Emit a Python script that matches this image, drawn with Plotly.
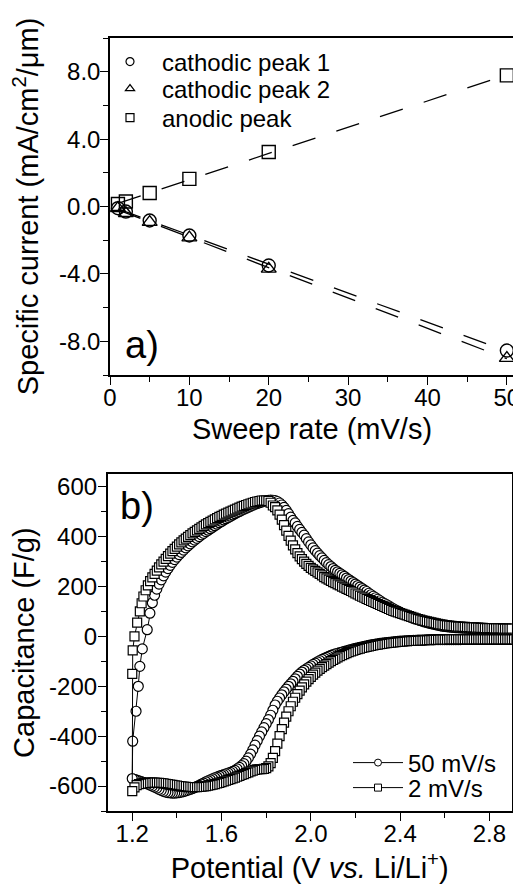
import numpy as np
import plotly.graph_objects as go

# ---------------- Panel a data ----------------
sweep_rate = [1, 2, 5, 10, 20, 50]
cathodic_peak_1 = [-0.10, -0.30, -0.83, -1.72, -3.50, -8.55]
cathodic_peak_2 = [-0.10, -0.40, -0.93, -1.85, -3.70, -9.00]
anodic_peak = [0.15, 0.30, 0.80, 1.64, 3.23, 7.78]

a_xticks = [0, 10, 20, 30, 40, 50]
a_yticks = [-8, -4, 0, 4, 8]
a_yticklabels = ["-8.0", "-4.0", "0.0", "4.0", "8.0"]

# ---------------- Panel b data ----------------
# cathodic (lower) branch, potential sweeping down from 2.90 V to 1.20 V
potential_lower = [
    2.90, 2.89, 2.88, 2.87, 2.86, 2.85, 2.84, 2.83, 2.82, 2.81,
    2.80, 2.79, 2.78, 2.77, 2.76, 2.75, 2.74, 2.73, 2.72, 2.71,
    2.70, 2.69, 2.68, 2.67, 2.66, 2.65, 2.64, 2.63, 2.62, 2.61,
    2.60, 2.59, 2.58, 2.57, 2.56, 2.55, 2.54, 2.53, 2.52, 2.51,
    2.50, 2.49, 2.48, 2.47, 2.46, 2.45, 2.44, 2.43, 2.42, 2.41,
    2.40, 2.39, 2.38, 2.37, 2.36, 2.35, 2.34, 2.33, 2.32, 2.31,
    2.30, 2.29, 2.28, 2.27, 2.26, 2.25, 2.24, 2.23, 2.22, 2.21,
    2.20, 2.19, 2.18, 2.17, 2.16, 2.15, 2.14, 2.13, 2.12, 2.11,
    2.10, 2.09, 2.08, 2.07, 2.06, 2.05, 2.04, 2.03, 2.02, 2.01,
    2.00, 1.99, 1.98, 1.97, 1.96, 1.95, 1.94, 1.93, 1.92, 1.91,
    1.90, 1.89, 1.88, 1.87, 1.86, 1.85, 1.84, 1.83, 1.82, 1.81,
    1.80, 1.79, 1.78, 1.77, 1.76, 1.75, 1.74, 1.73, 1.72, 1.71,
    1.70, 1.69, 1.68, 1.67, 1.66, 1.65, 1.64, 1.63, 1.62, 1.61,
    1.60, 1.59, 1.58, 1.57, 1.56, 1.55, 1.54, 1.53, 1.52, 1.51,
    1.50, 1.49, 1.48, 1.47, 1.46, 1.45, 1.44, 1.43, 1.42, 1.41,
    1.40, 1.39, 1.38, 1.37, 1.36, 1.35, 1.34, 1.33, 1.32, 1.31,
    1.30, 1.29, 1.28, 1.27, 1.26, 1.25, 1.24, 1.23, 1.22, 1.21,
    1.20]
cap_50_lower = [
    -12, -12, -12, -12, -12, -12, -12, -12, -12, -12,
    -12, -12, -12, -12, -12, -12, -12, -12, -12, -12,
    -12, -12, -12, -13, -13, -13, -13, -13, -13, -13,
    -13, -13, -13, -13, -13, -14, -14, -14, -14, -15,
    -15, -15, -15, -16, -16, -17, -17, -18, -18, -19,
    -19, -20, -21, -22, -23, -24, -25, -26, -27, -28,
    -30, -31, -33, -34, -36, -38, -40, -42, -44, -46,
    -48, -50, -53, -55, -58, -60, -63, -65, -68, -70,
    -73, -76, -80, -84, -88, -92, -97, -102, -107, -112,
    -118, -124, -130, -136, -143, -151, -160, -170, -180, -190,
    -200, -211, -222, -234, -247, -260, -275, -296, -316, -334,
    -350, -366, -383, -400, -418, -436, -455, -472, -487, -500,
    -510, -518, -525, -531, -537, -541, -545, -548, -551, -554,
    -557, -560, -564, -567, -571, -575, -579, -583, -588, -592,
    -597, -601, -606, -610, -613, -616, -619, -622, -624, -626,
    -627, -628, -628, -627, -626, -624, -621, -617, -613, -608,
    -604, -600, -596, -592, -589, -585, -582, -579, -576, -573,
    -570]
cap_2_lower = [
    -12, -12, -12, -12, -12, -12, -12, -12, -12, -12,
    -12, -12, -12, -12, -12, -12, -12, -12, -12, -12,
    -12, -12, -12, -12, -12, -12, -12, -12, -12, -12,
    -12, -12, -13, -13, -13, -13, -14, -14, -14, -15,
    -15, -16, -16, -17, -17, -18, -18, -19, -19, -20,
    -21, -22, -23, -24, -25, -26, -27, -28, -30, -31,
    -33, -34, -36, -38, -40, -42, -44, -46, -49, -51,
    -54, -57, -60, -63, -67, -71, -75, -79, -84, -89,
    -94, -99, -105, -111, -117, -123, -130, -137, -145, -153,
    -162, -171, -181, -192, -204, -217, -231, -246, -262, -280,
    -300, -322, -346, -372, -400, -430, -460, -487, -508, -521,
    -528, -531, -532, -532, -533, -535, -538, -541, -545, -548,
    -552, -555, -559, -562, -566, -569, -572, -575, -578, -581,
    -584, -587, -589, -592, -594, -596, -598, -600, -601, -602,
    -603, -604, -604, -604, -604, -604, -603, -602, -601, -600,
    -598, -597, -595, -594, -592, -591, -589, -588, -587, -587,
    -586, -586, -586, -586, -587, -588, -590, -592, -596, -605,
    -620]

# anodic (upper) branch, potential sweeping up from 1.20 V to 2.90 V
potential_upper_50 = [
    1.202, 1.217, 1.227, 1.234, 1.245, 1.267, 1.279,
    1.29, 1.30, 1.31, 1.32, 1.33, 1.34, 1.35, 1.36, 1.37, 1.38, 1.39,
    1.40, 1.41, 1.42, 1.43, 1.44, 1.45, 1.46, 1.47, 1.48, 1.49,
    1.50, 1.51, 1.52, 1.53, 1.54, 1.55, 1.56, 1.57, 1.58, 1.59,
    1.60, 1.61, 1.62, 1.63, 1.64, 1.65, 1.66, 1.67, 1.68, 1.69,
    1.70, 1.71, 1.72, 1.73, 1.74, 1.75, 1.76, 1.77, 1.78, 1.79,
    1.80, 1.81, 1.82, 1.83, 1.84, 1.85, 1.86, 1.87, 1.88, 1.89,
    1.90, 1.91, 1.92, 1.93, 1.94, 1.95, 1.96, 1.97, 1.98, 1.99,
    2.00, 2.01, 2.02, 2.03, 2.04, 2.05, 2.06, 2.07, 2.08, 2.09,
    2.10, 2.11, 2.12, 2.13, 2.14, 2.15, 2.16, 2.17, 2.18, 2.19,
    2.20, 2.21, 2.22, 2.23, 2.24, 2.25, 2.26, 2.27, 2.28, 2.29,
    2.30, 2.31, 2.32, 2.33, 2.34, 2.35, 2.36, 2.37, 2.38, 2.39,
    2.40, 2.41, 2.42, 2.43, 2.44, 2.45, 2.46, 2.47, 2.48, 2.49,
    2.50, 2.51, 2.52, 2.53, 2.54, 2.55, 2.56, 2.57, 2.58, 2.59,
    2.60, 2.61, 2.62, 2.63, 2.64, 2.65, 2.66, 2.67, 2.68, 2.69,
    2.70, 2.71, 2.72, 2.73, 2.74, 2.75, 2.76, 2.77, 2.78, 2.79,
    2.80, 2.81, 2.82, 2.83, 2.84, 2.85, 2.86, 2.87, 2.88, 2.89,
    2.90]
cap_50_upper = [
    -420, -300, -200, -120, -50, 27, 93,
    135, 165, 190, 210, 227, 243, 258, 272, 285, 297, 308,
    318, 328, 337, 346, 355, 363, 371, 379, 386, 393,
    400, 407, 413, 420, 426, 432, 438, 444, 450, 456,
    461, 467, 472, 477, 482, 487, 492, 497, 501, 506,
    510, 514, 518, 522, 526, 530, 533, 536, 539, 542,
    544, 546, 547, 546, 545, 541, 535, 527, 517, 505,
    492, 478, 465, 455, 441, 429, 417, 406, 392, 379,
    367, 355, 344, 334, 324, 315, 305, 296, 288, 280,
    272, 265, 259, 253, 247, 241, 234, 228, 222, 216,
    210, 204, 198, 192, 186, 180, 173, 167, 161, 155,
    149, 143, 137, 132, 127, 122, 116, 111, 106, 101,
    97, 92, 88, 84, 81, 77, 73, 70, 67, 64,
    61, 58, 56, 53, 51, 49, 47, 45, 43, 41,
    40, 39, 38, 37, 36, 35, 35, 34, 34, 33,
    33, 32, 32, 31, 31, 31, 31, 30, 30, 30,
    30, 29, 29, 29, 29, 29, 29, 28, 28, 28,
    28]
potential_upper_2 = [
    1.200, 1.202, 1.210, 1.222, 1.234, 1.242,
    1.25, 1.26, 1.27, 1.28, 1.29, 1.30, 1.31, 1.32, 1.33, 1.34, 1.35, 1.36, 1.37, 1.38, 1.39,
    1.40, 1.41, 1.42, 1.43, 1.44, 1.45, 1.46, 1.47, 1.48, 1.49,
    1.50, 1.51, 1.52, 1.53, 1.54, 1.55, 1.56, 1.57, 1.58, 1.59,
    1.60, 1.61, 1.62, 1.63, 1.64, 1.65, 1.66, 1.67, 1.68, 1.69,
    1.70, 1.71, 1.72, 1.73, 1.74, 1.75, 1.76, 1.77, 1.78, 1.79,
    1.80, 1.81, 1.82, 1.83, 1.84, 1.85, 1.86, 1.87, 1.88, 1.89,
    1.90, 1.91, 1.92, 1.93, 1.94, 1.95, 1.96, 1.97, 1.98, 1.99,
    2.00, 2.01, 2.02, 2.03, 2.04, 2.05, 2.06, 2.07, 2.08, 2.09,
    2.10, 2.11, 2.12, 2.13, 2.14, 2.15, 2.16, 2.17, 2.18, 2.19,
    2.20, 2.21, 2.22, 2.23, 2.24, 2.25, 2.26, 2.27, 2.28, 2.29,
    2.30, 2.31, 2.32, 2.33, 2.34, 2.35, 2.36, 2.37, 2.38, 2.39,
    2.40, 2.41, 2.42, 2.43, 2.44, 2.45, 2.46, 2.47, 2.48, 2.49,
    2.50, 2.51, 2.52, 2.53, 2.54, 2.55, 2.56, 2.57, 2.58, 2.59,
    2.60, 2.61, 2.62, 2.63, 2.64, 2.65, 2.66, 2.67, 2.68, 2.69,
    2.70, 2.71, 2.72, 2.73, 2.74, 2.75, 2.76, 2.77, 2.78, 2.79,
    2.80, 2.81, 2.82, 2.83, 2.84, 2.85, 2.86, 2.87, 2.88, 2.89,
    2.90]
cap_2_upper = [
    -150, -56, 0, 55, 100, 133,
    160, 185, 205, 222, 237, 251, 264, 277, 289, 300, 311, 322, 332, 342, 351,
    360, 369, 377, 385, 392, 399, 406, 413, 419, 425,
    431, 437, 443, 449, 454, 459, 464, 469, 474, 479,
    483, 488, 492, 496, 500, 504, 508, 512, 516, 520,
    523, 527, 530, 533, 536, 539, 541, 543, 545, 545,
    545, 543, 536, 525, 518, 505, 488, 468, 446, 424,
    403, 384, 365, 349, 334, 321, 310, 300, 291, 283,
    275, 269, 263, 257, 251, 245, 238, 233, 228, 223,
    218, 214, 209, 205, 200, 196, 191, 187, 182, 177,
    172, 168, 163, 159, 155, 150, 146, 142, 138, 134,
    130, 126, 122, 118, 114, 110, 106, 102, 99, 96,
    93, 90, 87, 84, 81, 78, 75, 72, 69, 67,
    64, 62, 60, 58, 56, 54, 52, 50, 48, 47,
    45, 44, 43, 42, 41, 40, 39, 39, 38, 38,
    37, 37, 36, 36, 35, 35, 34, 34, 33, 33,
    33, 33, 32, 32, 32, 32, 31, 31, 31, 31,
    31]

b_xticks = [1.2, 1.6, 2.0, 2.4, 2.8]
b_xticklabels = ["1.2", "1.6", "2.0", "2.4", "2.8"]
b_xminor = [1.4, 1.8, 2.2, 2.6]
b_yticks = [-600, -400, -200, 0, 200, 400, 600]
b_yticklabels = ["-600", "-400", "-200", "0", "200", "400", "600"]

FONT = "Liberation Sans, Arial, sans-serif"
OFF = 8                      # default page margin of the html body
W, H = 521 - OFF, 884 - OFF  # figure size so that it fills the window


def fx(px):
    return (px - OFF) / W


def fy(py):
    return 1 - (py - OFF) / H


fig = go.Figure()

# ---- panel a: fitted lines ----
for ys in (cathodic_peak_1, cathodic_peak_2, anodic_peak):
    k, b0 = np.polyfit(sweep_rate, ys, 1)
    xs = np.array([min(sweep_rate), max(sweep_rate)], dtype=float)
    fig.add_trace(go.Scatter(x=xs, y=k * xs + b0, mode="lines", showlegend=False,
                             line=dict(color="black", width=1.3, dash="24px,22px"),
                             xaxis="x", yaxis="y", hoverinfo="skip"))

a_series = [("cathodic peak 1", cathodic_peak_1, "circle-open", "legend"),
            ("cathodic peak 2", cathodic_peak_2, "triangle-up-open", "legend2"),
            ("anodic peak", anodic_peak, "square-open", "legend3")]
for name, ys, sym, lg in a_series:
    fig.add_trace(go.Scatter(x=sweep_rate, y=ys, mode="markers", name=name, showlegend=False,
                             marker=dict(symbol=sym, size=13, color="black", line=dict(width=1.4)),
                             xaxis="x", yaxis="y"))
    fig.add_trace(go.Scatter(x=[None], y=[None], mode="markers", name=name, legend=lg,
                             marker=dict(symbol=sym, size=8, color="black", line=dict(width=1.2)),
                             xaxis="x", yaxis="y"))

# ---- panel b ----
b_series = [("50 mV/s", potential_lower + potential_upper_50, cap_50_lower + cap_50_upper, "circle", 10, "legend4"),
            ("2 mV/s", potential_lower + potential_upper_2, cap_2_lower + cap_2_upper, "square", 9, "legend5")]
for name, xs, ys, sym, sz, lg in b_series:
    fig.add_trace(go.Scatter(x=xs, y=ys, mode="lines+markers", name=name, showlegend=False,
                             line=dict(color="black", width=1),
                             marker=dict(symbol=sym, size=sz, color="white", line=dict(color="black", width=1.2)),
                             xaxis="x2", yaxis="y2"))
    fig.add_trace(go.Scatter(x=[None], y=[None], mode="lines+markers", name=name, legend=lg,
                             line=dict(color="black", width=1),
                             marker=dict(symbol=sym, size=7, color="white", line=dict(color="black", width=1)),
                             xaxis="x2", yaxis="y2"))

axis_common = dict(showgrid=False, zeroline=False, showline=True, linecolor="black", linewidth=1.5,
                   mirror=True, ticks="outside", ticklen=8, tickwidth=1.3, tickcolor="black",
                   automargin=False,
                   tickfont=dict(size=24, color="black", family=FONT))


def legend_at(xpx, ypx, size, iw=30):
    return dict(x=fx(xpx), y=fy(ypx), xanchor="left", yanchor="middle", itemwidth=iw,
                bgcolor="rgba(0,0,0,0)", borderwidth=0, font=dict(size=size, color="black", family=FONT))


fig.update_layout(
    width=W, height=H, margin=dict(l=0, r=0, t=0, b=0, autoexpand=False),
    paper_bgcolor="white", plot_bgcolor="white",
    font=dict(family=FONT, color="black"),
    xaxis=dict(axis_common, domain=[fx(110), fx(514)], range=[0, 50.9], anchor="y",
               tickvals=a_xticks, ticklabelstandoff=-8,
               minor=dict(dtick=5, ticklen=5, ticks="outside", tickcolor="black"),
               title=dict(text="Sweep rate (mV/s)", font=dict(size=29), standoff=9)),
    yaxis=dict(axis_common, domain=[fy(375), fy(38)], range=[-10, 10], anchor="x",
               tickvals=a_yticks, ticktext=a_yticklabels, ticklabelstandoff=-5,
               minor=dict(dtick=2, ticklen=5, ticks="outside", tickcolor="black"),
               title=dict(text="Specific current (mA/cm<sup>2</sup>/μm)", font=dict(size=29), standoff=17)),
    xaxis2=dict(axis_common, domain=[fx(107.7), fx(511.7)], range=[1.09, 2.9], anchor="y2",
                tickvals=b_xticks, ticktext=b_xticklabels, ticklabelstandoff=-8,
                minor=dict(tickvals=b_xminor, ticklen=5, ticks="outside", tickcolor="black"),
                title=dict(text="Potential (V <i>vs.</i> Li/Li<sup>+</sup>)", font=dict(size=29), standoff=13)),
    yaxis2=dict(axis_common, domain=[fy(811), fy(474.3)], range=[-700, 650], anchor="x2",
                tickvals=b_yticks, ticktext=b_yticklabels, ticklabelstandoff=-4,
                minor=dict(dtick=100, ticklen=5, ticks="outside", tickcolor="black"),
                title=dict(text="Capacitance (F/g)", font=dict(size=29), standoff=15)),
    legend=legend_at(98, 62, 24, 54),
    legend2=legend_at(98, 89, 24, 54),
    legend3=legend_at(98, 118, 24, 54),
    legend4=legend_at(348, 763, 24, 50),
    legend5=legend_at(348, 788, 24, 50),
    annotations=[
        dict(text="a)", x=fx(123), y=fy(345), xref="paper", yref="paper", xanchor="left",
             yanchor="middle", showarrow=False, font=dict(size=38, color="black", family=FONT)),
        dict(text="b)", x=fx(118), y=fy(506), xref="paper", yref="paper", xanchor="left",
             yanchor="middle", showarrow=False, font=dict(size=38, color="black", family=FONT)),
    ],
)

fig.write_html("out.html")
